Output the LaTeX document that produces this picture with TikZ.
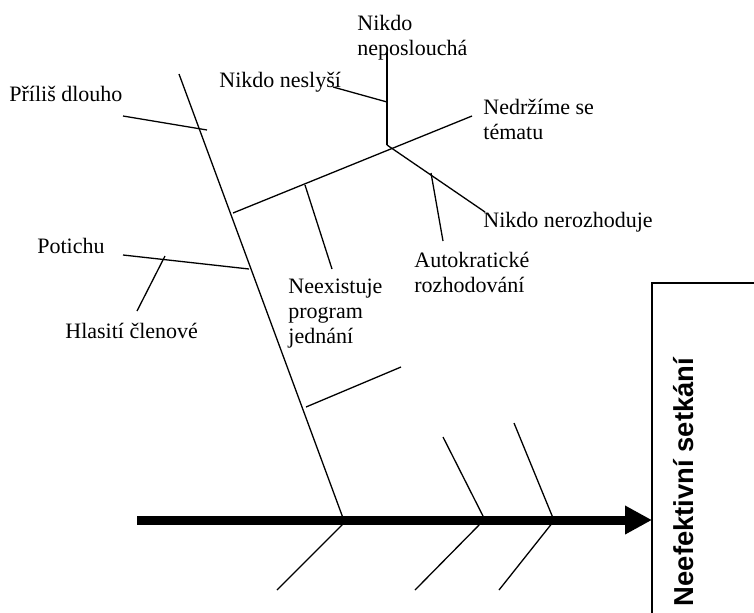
\documentclass[tikz,border=0pt]{standalone}
\usepackage{fontspec}
\setmainfont{Liberation Serif}
\setsansfont{Liberation Sans}
\usetikzlibrary{arrows.meta}
\tikzset{
    cause/.style = {anchor=base west, inner sep=0, align=left, font=\fontsize{11}{12.5}\selectfont},
    effect/.style = {anchor=base, inner sep=0, rotate=90, font=\sffamily\bfseries\fontsize{13.7}{15}\selectfont},
    bone/.style = {-, line width=0.65pt, black},
    spine/.style = {line width=4.5pt, black, -{Triangle[length=13.5pt,width=13.5pt]}},
    frame/.style = {line width=0.7pt, black}, % result box
}
\begin{document}
\begin{tikzpicture}[x=0.5pt,y=-0.5pt]
\path[use as bounding box] (0,0) rectangle (754,612);
\clip (0,0) rectangle (754,612);

% multi-line nodes sit on the baseline of their last line
\node[cause] at (  9, 101) (dlouho) {Příliš dlouho};
\node[cause] at (219,  87) (neslysi) {Nikdo neslyší};
\node[cause] at (357,  55) (neposloucha) {Nikdo\\neposlouchá};
\node[cause] at (483, 139) (tema) {Nedržíme se\\tématu};
\node[cause] at (483, 227) (nerozhoduje) {Nikdo nerozhoduje};
\node[cause] at ( 37, 253) (potichu) {Potichu};
\node[cause] at (414, 292) (autokrat) {Autokratické\\rozhodování};
\node[cause] at (288, 343) (program) {Neexistuje\\program\\jednání};
\node[cause] at ( 65, 338) (hlasiti) {Hlasití členové};
\node[effect] at (693, 482) (setkani) {Neefektivní setkání};

\coordinate (b0) at (179, 74);
\coordinate (b1) at (343,518);
\coordinate (d0) at (123,116);
\coordinate (d1) at (207,130);
\coordinate (t0) at (233,213);
\coordinate (t1) at (472,116);
\coordinate (p0) at (305,185);
\coordinate (p1) at (332,269);
\coordinate (q0) at (123,255);
\coordinate (q1) at (249,269);
\coordinate (h0) at (165,256);
\coordinate (h1) at (137,311);
\coordinate (s0) at (333, 87);
\coordinate (s1) at (387,102);
\coordinate (n0) at (387, 52);
\coordinate (n1) at (387,145);
\coordinate (r1) at (485,212);
\coordinate (a0) at (431,173);
\coordinate (a1) at (443,241);
\coordinate (l0) at (306,407);
\coordinate (l1) at (401,367);
\coordinate (k0) at (343,524);
\coordinate (k1) at (277,590);
\coordinate (u0) at (443,437);
\coordinate (u1) at (484,518);
\coordinate (v0) at (514,423);
\coordinate (v1) at (553,518);
\coordinate (w0) at (482,522);
\coordinate (w1) at (415,590);
\coordinate (z0) at (553,522);
\coordinate (z1) at (499,590);
\coordinate (tail) at (137,520);
\coordinate (head) at (652,520);

\draw[frame] (652,640) |- (780,283);

\draw[bone] (b0) -- (b1);
\draw[bone] (d0) -- (d1);
\draw[bone] (t0) -- (t1);
\draw[bone] (p0) -- (p1);
\draw[bone] (q0) -- (q1);
\draw[bone] (h0) -- (h1);
\draw[bone] (s0) -- (s1);
\draw[bone] (n0) -- (n1);
\draw[bone] (n1) -- (r1);
\draw[bone] (a0) -- (a1);
\draw[bone] (l0) -- (l1);
\draw[bone] (k0) -- (k1);
\draw[bone] (u0) -- (u1);
\draw[bone] (v0) -- (v1);
\draw[bone] (w0) -- (w1);
\draw[bone] (z0) -- (z1);

\draw[spine] (tail) -- (head);

\end{tikzpicture}
\end{document}
